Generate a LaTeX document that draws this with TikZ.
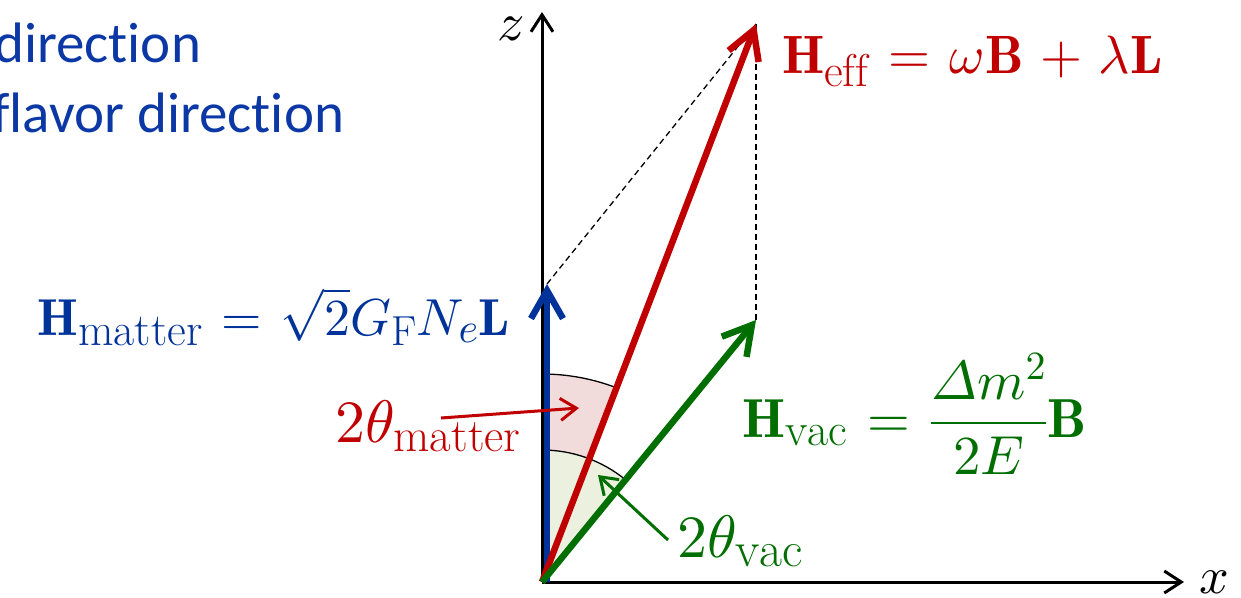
\RequirePackage{fix-cm}
\documentclass[tikz,border=0pt]{standalone}
\usepackage{amsmath}
\usepackage{fontspec}
\newfontfamily\carlito[Ligatures=NoCommon]{Carlito}
\usetikzlibrary{arrows.meta}
\DeclareFontShape{OT1}{cmr}{m}{n}{<->cmr10}{}
\DeclareFontShape{OT1}{cmr}{bx}{n}{<->cmbx10}{}
\DeclareFontShape{OML}{cmm}{m}{it}{<->cmmi10}{}
\DeclareFontShape{OMS}{cmsy}{m}{n}{<->cmsy10}{}
\DeclareFontShape{OMX}{cmex}{m}{n}{<->cmex10}{}
\newcommand\sz[2]{\mbox{\fontsize{#1}{#1}\selectfont$#2$}}
\newcommand\eqsp{\mathrel{\mkern1.5mu=\mkern1.5mu}}
\newcommand\plsp{\mathbin{\mkern1.5mu+\mkern1.5mu}}
\definecolor{cred}{RGB}{192,0,0}
\definecolor{cblue}{RGB}{0,51,153}
\definecolor{ctxtblue}{RGB}{12,56,165}
\definecolor{cgreen}{RGB}{0,110,0}
\definecolor{pinkfill}{RGB}{242,220,219}
\definecolor{greenfill}{RGB}{235,241,222}
\tikzset{
  vecarrow/.style={line width=6.5pt, -{Straight Barb[length=28pt,width=32pt]}},
  axisarrow/.style={line width=3pt, -{Straight Barb[length=17pt,width=22pt]}},
  pointer/.style={line width=3pt, -{Straight Barb[length=16pt,width=22pt]}},
  helper/.style={line width=1.3pt, dash pattern=on 6pt off 4pt},
  lbl/.style={inner sep=0pt, outer sep=0pt},
}
\begin{document}
\begin{tikzpicture}[x=1pt,y=-1pt]
\useasboundingbox (0,0) rectangle (1241,597);
\clip (0,0) rectangle (1241,597);
\coordinate (O) at (542,582);
\coordinate (ztip) at (542,12);
\coordinate (xtip) at (1184,582);
\coordinate (B0) at (547,582);
\coordinate (Btip) at (547,284);
\coordinate (Rtip) at (756,24);
\coordinate (Gtip) at (756,320);
% sectors
\fill[pinkfill] (O) -- ++(-90:208) arc[start angle=-90, end angle=-69.1, radius=208] -- cycle;
\draw[line width=1.3pt] (O) ++(-90:208) arc[start angle=-90, end angle=-69.1, radius=208];
\fill[greenfill] (O) -- ++(-90:132) arc[start angle=-90, end angle=-50.9, radius=132] -- cycle;
\draw[line width=1.3pt] (O) ++(-90:132) arc[start angle=-90, end angle=-50.9, radius=132];
% axes
\draw[axisarrow] (O) -- (ztip);
\draw[axisarrow] (O) -- (xtip);
% dashed helpers
\draw[helper] (Btip) -- (Rtip);
\draw[helper] (Gtip) -- (Rtip);
% vectors
\draw[vecarrow, cblue] (B0) -- (Btip);
\draw[vecarrow, cred] (O) -- (Rtip);
\draw[vecarrow, cgreen] (O) -- (Gtip);
% pointers
\coordinate (pm0) at (441,418);
\coordinate (pm1) at (579,408);
\coordinate (pv0) at (668,540);
\coordinate (pv1) at (598,475);
\draw[pointer, cred] (pm0) -- (pm1);
\draw[pointer, cgreen] (pv0) -- (pv1);
% labels
\node[lbl, anchor=base] (zl) at (511,40) {\fontsize{54}{60}\selectfont$z$};
\node[lbl, anchor=base west] (xl) at (1199,593) {\fontsize{52}{60}\selectfont$x$};
\node[lbl, anchor=base west, text=cred] (heff) at (782,73)
  {\fontsize{54}{60}\selectfont$\mathbf{H}_{\sz{46}{\mathrm{eff}}}\eqsp\omega\mathbf{B}\plsp\lambda\mathbf{L}$};
\node[lbl, anchor=base east, text=cblue] (hmat) at (510,335)
  {\fontsize{52}{60}\selectfont$\mathbf{H}_{\sz{46}{\mathrm{matter}}}\eqsp\sqrt{2}G_{\sz{42}{\mathrm{F}}}N_{\sz{42}{e}}\mathbf{L}$};
\node[lbl, anchor=base east, text=cred] (tm) at (521,442)
  {\fontsize{60}{60}\selectfont$2\theta_{\sz{47}{\mathrm{matter}}}$};
\node[lbl, anchor=base west, text=cgreen] (hvac) at (742,437)
  {\fontsize{55}{60}\selectfont$\mathbf{H}_{\sz{46}{\mathrm{vac}}}\eqsp\dfrac{\varDelta m^{\sz{40}{2}}}{2E}\mathbf{B}$};
\node[lbl, anchor=base west, text=cgreen] (tv) at (677,557)
  {\fontsize{60}{60}\selectfont$2\theta_{\sz{50}{\mathrm{vac}}}$};
\node[lbl, anchor=base east, text=ctxtblue] (t1) at (201,62)
  {\carlito\fontsize{57}{60}\selectfont direction};
\node[lbl, anchor=base east, text=ctxtblue] (t2) at (344,132)
  {\carlito\fontsize{57}{60}\selectfont flavor direction};
\end{tikzpicture}
\end{document}
